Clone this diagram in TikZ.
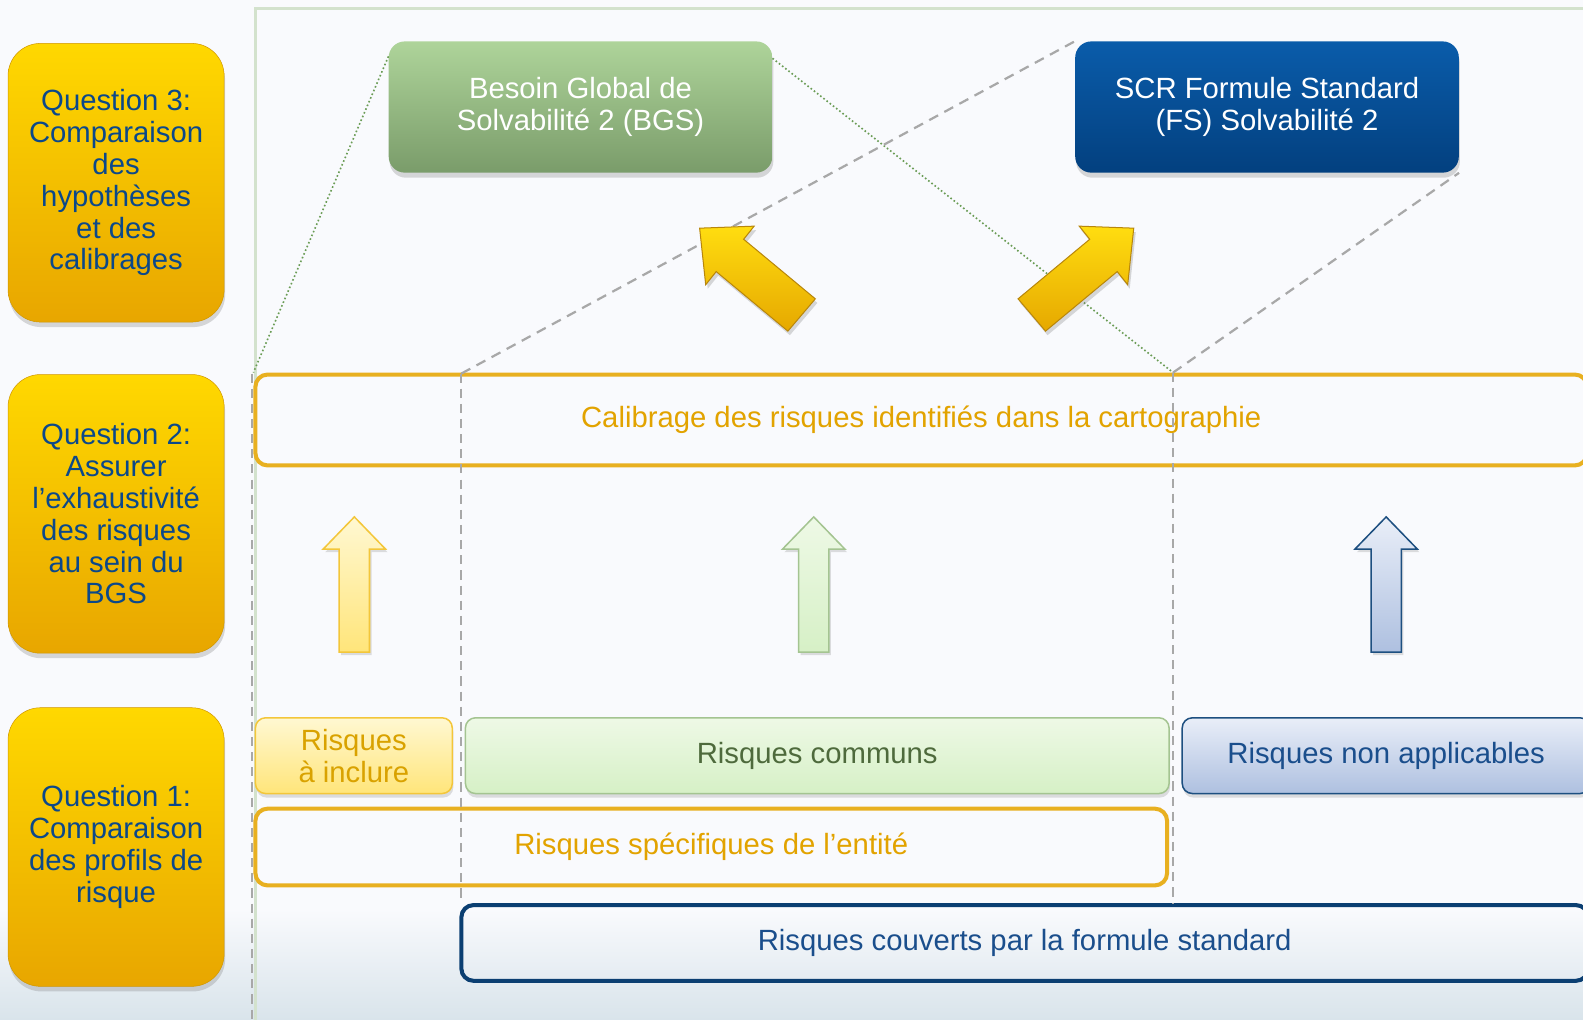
\documentclass[tikz,border=0pt]{standalone}
\usepackage{fontspec}
\setmainfont{Liberation Sans}
\usetikzlibrary{shadows}
\definecolor{bgc}{HTML}{F9FAFD}
\definecolor{bgbot}{HTML}{D9E4EB}
\definecolor{framegreen}{HTML}{D3E2CD}
\definecolor{qtop}{HTML}{FFD800}
\definecolor{qbot}{HTML}{E8A600}
\definecolor{qedge}{HTML}{D09600}
\definecolor{qtext}{HTML}{0B488A}
\definecolor{bgstop}{HTML}{AED49A}
\definecolor{bgsbot}{HTML}{7A9C6A}
\definecolor{scrtop}{HTML}{0A5CAA}
\definecolor{scrbot}{HTML}{03407F}
\definecolor{gold}{HTML}{E8B020}
\definecolor{goldtext}{HTML}{E2A300}
\definecolor{navy}{HTML}{0B3F72}
\definecolor{dotgreen}{HTML}{6A9C55}
\definecolor{dashgray}{HTML}{A8A8A8}
\definecolor{arrtop}{HTML}{FFDD10}
\definecolor{arrbot}{HTML}{E6A800}
\definecolor{arredge}{HTML}{B8860B}
\definecolor{inctop}{HTML}{FFF8D2}
\definecolor{incbot}{HTML}{FFE57A}
\definecolor{incedge}{HTML}{F3C63A}
\definecolor{inctext}{HTML}{D9A200}
\definecolor{comtop}{HTML}{EEF9E6}
\definecolor{combot}{HTML}{D6F0C6}
\definecolor{comedge}{HTML}{A4C491}
\definecolor{comtext}{HTML}{4E6A3C}
\definecolor{natop}{HTML}{E9EEF8}
\definecolor{nabot}{HTML}{AEC0E0}
\definecolor{naedge}{HTML}{1D4F80}
\definecolor{natext}{HTML}{1A4E8C}
\tikzset{
  question/.style={draw=qedge, line width=0.5pt, rounded corners=32pt, top color=qtop, bottom color=qbot, text=qtext, align=center, minimum width=214pt, minimum height=276pt, inner sep=0pt, drop shadow={opacity=0.3, shadow xshift=1pt, shadow yshift=-5pt}},
  target/.style={rounded corners=16pt, minimum width=380pt, minimum height=130pt, text=white, align=center, inner sep=0pt, drop shadow={opacity=0.3, shadow xshift=1pt, shadow yshift=-5pt}},
  band/.style={line width=4pt, rounded corners=12pt, inner sep=0pt},
  risk/.style={rounded corners=10pt, line width=1.5pt, minimum height=75pt, inner sep=0pt, align=center, drop shadow={opacity=0.25, shadow xshift=1pt, shadow yshift=-4pt}},
  uparrow/.style={line width=1.5pt, line join=miter, drop shadow={opacity=0.25, shadow xshift=2pt, shadow yshift=-3pt}},
  bigarrow/.style={draw=arredge, line width=1pt, line join=miter, top color=arrtop, bottom color=arrbot, drop shadow={opacity=0.3, shadow xshift=2pt, shadow yshift=-4pt}},
  dotline/.style={dotgreen, line width=1.6pt, dash pattern=on 1.6pt off 2.4pt},
  dashline/.style={dashgray, line width=2.2pt, dash pattern=on 10pt off 7pt},
  cutline/.style={dashgray, line width=1.8pt, dash pattern=on 9pt off 6pt}
}
\begin{document}
\begin{tikzpicture}[x=1pt,y=-1pt,font=\fontsize{29}{31.5}\selectfont]
\useasboundingbox (0,0) rectangle (1568,1010);
\fill[bgc] (0,0) rectangle (1568,1010);
\shade[top color=bgc, bottom color=bgbot] (0,900) rectangle (1568,1010);
\draw[framegreen, line width=3pt] (253,1010) -- (253,8) -- (1570,8);

\node[question] (Q3) at (115,181) {Question 3:\\Comparaison\\des\\hypothèses\\et des\\calibrages};
\node[question] (Q2) at (115,509) {Question 2:\\Assurer\\l’exhaustivité\\des risques\\au sein du\\BGS};
\node[question] (Q1) at (115,839) {Question 1:\\Comparaison\\des profils de\\risque};

\node[target, top color=bgstop, bottom color=bgsbot] (BGS) at (575,106) {Besoin Global de\\Solvabilité 2 (BGS)};
\node[target, top color=scrtop, bottom color=scrbot] (SCR) at (1255,106) {SCR Formule Standard\\(FS) Solvabilité 2};

\node[band, draw=gold, text=goldtext, minimum width=1319pt, minimum height=90pt] (CAL) at (912.5,416) {Calibrage des risques identifiés dans la cartographie};
\node[band, draw=gold, text=goldtext, minimum width=903pt, minimum height=76pt] (SPE) at (704.5,839) {Risques spécifiques de l’entité};
\node[band, draw=navy, text=natext, minimum width=1116pt, minimum height=75pt] (FS) at (1015,934) {Risques couverts par la formule standard};

\node[risk, draw=incedge, top color=inctop, bottom color=incbot, text=inctext, minimum width=195pt] (INC) at (350.5,748.5) {Risques\\à inclure};
\node[risk, draw=comedge, top color=comtop, bottom color=combot, text=comtext, minimum width=697pt] (COM) at (809.5,748.5) {Risques communs};
\node[risk, draw=naedge, top color=natop, bottom color=nabot, text=natext, minimum width=404pt] (NA) at (1373,748.5) {Risques non applicables};

\coordinate (L) at (457,370);
\coordinate (R) at (1162,369);
\coordinate (D) at (250,370);
\coordinate (E) at (250,1010);

\draw[dotline] ([yshift=-15pt]BGS.north west) -- (CAL.north west);
\draw[dotline] ([yshift=-17pt]BGS.north east) -- (R);
\draw[dashline] (L) -- (SCR.north west);
\draw[dashline] (R) -- (SCR.south east);
\draw[cutline] (L) -- (L |- FS.north);
\draw[cutline] (R) -- (R |- FS.north);
\draw[cutline] (D) -- (E);

\draw[bigarrow] (693,226) -- (747,224) -- (736.6,237) -- (807.6,296) -- (780.4,328) -- (709.4,269) -- (699,282) -- cycle;
\draw[bigarrow] (1123,226) -- (1069,224) -- (1079.4,237) -- (1008.4,296) -- (1035.6,328) -- (1106.6,269) -- (1117,282) -- cycle;

\draw[uparrow, draw=incedge, top color=inctop, bottom color=incbot] (351,512) -- ++(31,32) -- ++(-16,0) -- ++(0,102) -- ++(-30,0) -- ++(0,-102) -- ++(-16,0) -- cycle;
\draw[uparrow, draw=comedge, top color=comtop, bottom color=combot] (806,512) -- ++(31,32) -- ++(-16,0) -- ++(0,102) -- ++(-30,0) -- ++(0,-102) -- ++(-16,0) -- cycle;
\draw[uparrow, draw=naedge, top color=natop, bottom color=nabot] (1373,512) -- ++(31,32) -- ++(-16,0) -- ++(0,102) -- ++(-30,0) -- ++(0,-102) -- ++(-16,0) -- cycle;
\end{tikzpicture}
\end{document}
